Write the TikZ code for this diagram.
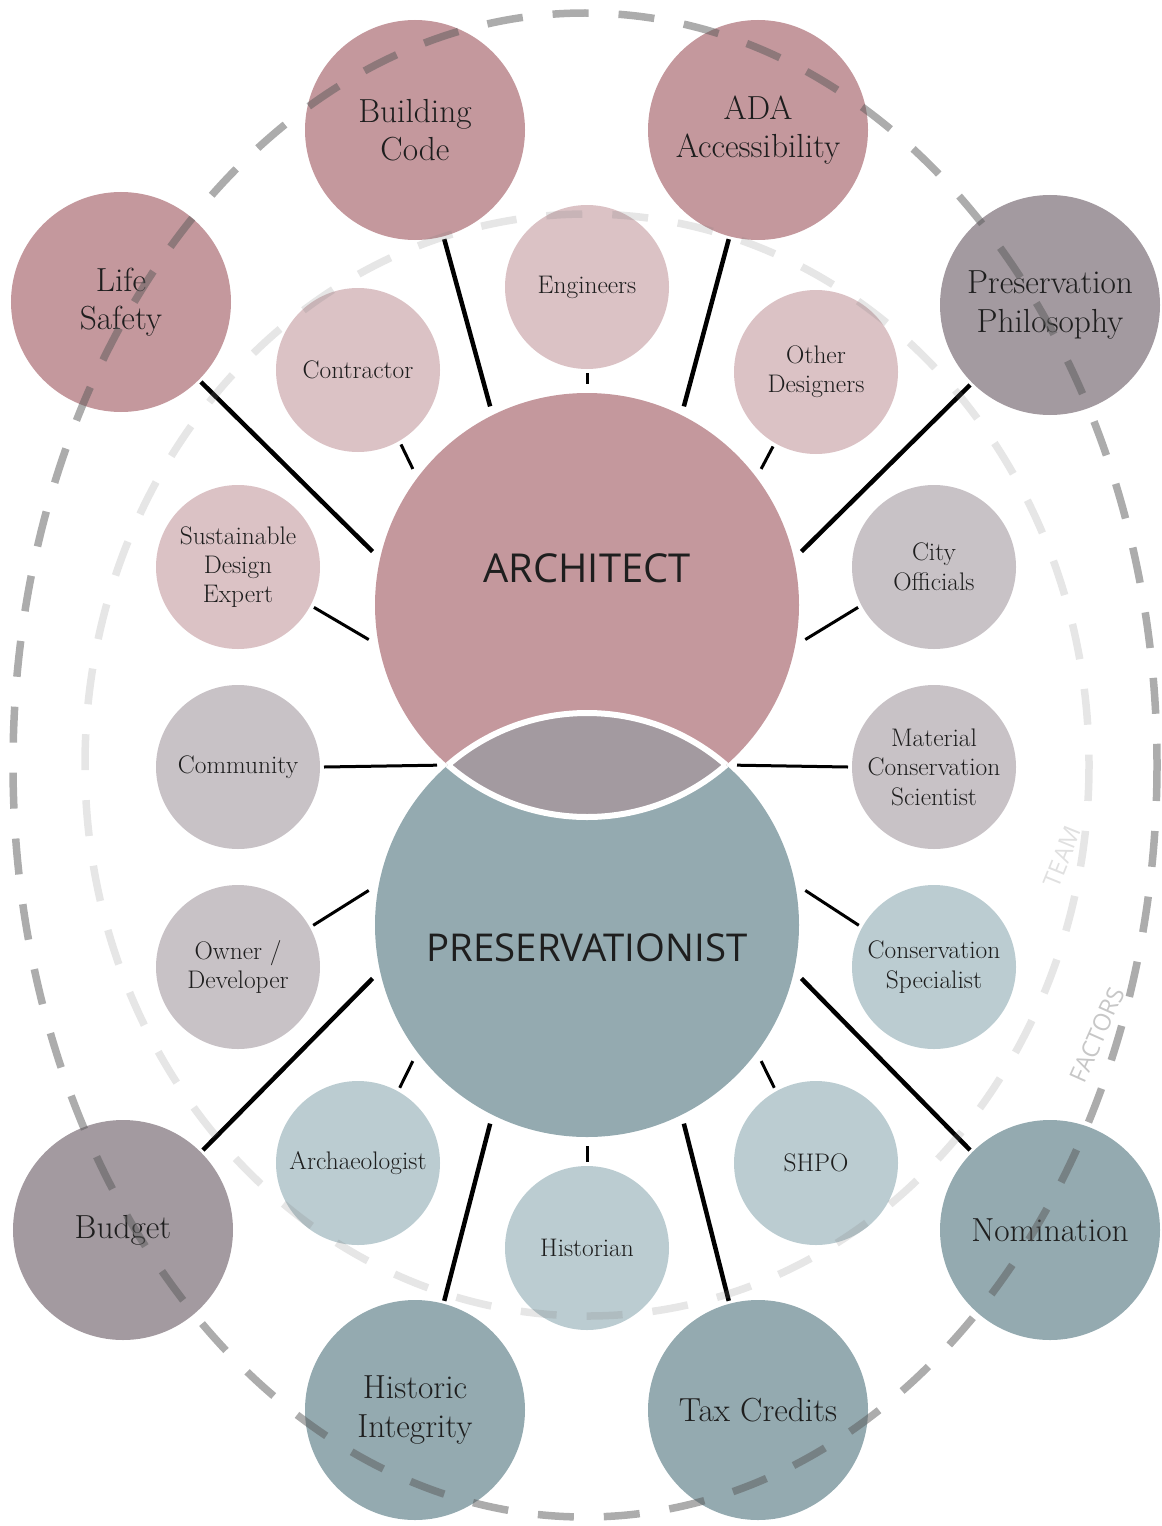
\documentclass[tikz,border=0pt]{standalone}
\usepackage{fontspec}
\newfontfamily\kernschrift{Open Sans}

\definecolor{archrot}{HTML}{C4989D}
\definecolor{teamrot}{HTML}{DBC2C5}
\definecolor{mauve}{HTML}{A39AA0}
\definecolor{hellmauve}{HTML}{C8C2C6}
\definecolor{petrol}{HTML}{94AAB0}
\definecolor{hellpetrol}{HTML}{BBCCD1}
\definecolor{schrift}{HTML}{1E1E1E}

\tikzset{
  kern/.style={circle, inner sep=0pt, outer sep=9bp, minimum size=424bp},
  kerntext/.style={text=schrift, inner sep=0pt, font=\kernschrift\fontsize{40}{46}\selectfont},
  faktor/.style={circle, inner sep=0pt, outer sep=3bp, minimum size=220bp, align=center,
    text=schrift, font=\fontsize{33.5}{38.5}\selectfont},
  team/.style={circle, inner sep=0pt, outer sep=4bp, minimum size=164bp, align=center,
    text=schrift, font=\fontsize{25.5}{29.5}\selectfont},
  faktorlink/.style={line width=4.5bp, black},
  teamlink/.style={line width=3bp, black},
  ring/.style={line width=7.5bp, dash pattern=on 36bp off 30bp},
  ringtext/.style={inner sep=0pt, font=\kernschrift\fontsize{24}{28}\selectfont},
}

\begin{document}
\begin{tikzpicture}[x=1bp, y=-1bp]
\useasboundingbox (0,0) rectangle (1161,1526);

% Kernkreise
\node[kern, fill=archrot] (arch) at (587,605) {};
\node[kern, fill=petrol] (pres) at (587,925) {};
% Schnittmenge
\begin{scope}
  \clip (587,605) circle[radius=212];
  \fill[mauve] (587,925) circle[radius=212];
  \draw[white, line width=6bp] (587,925) circle[radius=212];
\end{scope}
\begin{scope}
  \clip (587,925) circle[radius=212];
  \draw[white, line width=6bp] (587,605) circle[radius=212];
\end{scope}
\coordinate (lensW) at (448,765);
\coordinate (lensE) at (726,765);
\node[kerntext] (archlabel) at (587,568) {ARCHITECT};
\node[kerntext, font=\kernschrift\fontsize{38.5}{46}\selectfont] (preslabel) at (587,948) {PRESERVATIONIST};

% Team
\node[team, fill=teamrot] (engineers) at (587,287) {Engineers};
\node[team, fill=teamrot] (contractor) at (358,370) {Contractor};
\node[team, fill=teamrot] (designers) at (816,372) {Other\\Designers};
\node[team, fill=teamrot] (sustainable) at (238,567) {Sustainable\\Design\\Expert};
\node[team, fill=hellmauve] (city) at (934,567) {City\\Officials};
\node[team, fill=hellmauve] (community) at (238,767) {Community};
\node[team, fill=hellmauve] (material) at (934,767) {Material\\Conservation\\Scientist};
\node[team, fill=hellmauve] (owner) at (238,967) {Owner /\\Developer};
\node[team, fill=hellpetrol] (conservation) at (934,967) {Conservation\\Specialist};
\node[team, fill=hellpetrol] (archaeologist) at (358,1163) {Archaeologist};
\node[team, fill=hellpetrol] (shpo) at (816,1163) {SHPO};
\node[team, fill=hellpetrol] (historian) at (587,1248) {Historian};

% Faktoren
\node[faktor, fill=archrot] (code) at (415,130) {Building\\Code};
\node[faktor, fill=archrot] (ada) at (758,130) {ADA\\Accessibility};
\node[faktor, fill=archrot] (life) at (121,302) {Life\\Safety};
\node[faktor, fill=mauve] (philo) at (1050,305) {Preservation\\Philosophy};
\node[faktor, fill=mauve] (budget) at (123,1230) {Budget};
\node[faktor, fill=petrol] (nomination) at (1050,1230) {Nomination};
\node[faktor, fill=petrol] (integrity) at (415,1410) {Historic\\Integrity};
\node[faktor, fill=petrol] (taxcredits) at (758,1410) {Tax Credits};

% Verbindungen Faktoren
\draw[faktorlink] (life.-45) -- (arch.166);
\draw[faktorlink] (code.-75) -- (arch.116);
\draw[faktorlink] (ada.-105) -- (arch.64);
\draw[faktorlink] (philo.-135) -- (arch.14);
\draw[faktorlink] (budget.45) -- (pres.194);
\draw[faktorlink] (nomination.135) -- (pres.-14);
\draw[faktorlink] (integrity.75) -- (pres.-116);
\draw[faktorlink] (taxcredits.105) -- (pres.-64);

% Verbindungen Team
\draw[teamlink] (engineers.-90) -- (arch.90);
\draw[teamlink] (contractor.-60) -- (arch.142);
\draw[teamlink] (designers.-120) -- (arch.38);
\draw[teamlink] (sustainable.-28) -- (arch.189);
\draw[teamlink] (city.-152) -- (arch.-9);
\draw[teamlink, shorten >=11bp] (community.0) -- (lensW);
\draw[teamlink, shorten >=11bp] (material.180) -- (lensE);
\draw[teamlink] (owner.29) -- (pres.171);
\draw[teamlink] (conservation.151) -- (pres.9);
\draw[teamlink] (archaeologist.61) -- (pres.218);
\draw[teamlink] (shpo.119) -- (pres.-38);
\draw[teamlink] (historian.90) -- (pres.-90);

% Ringe
\draw[ring, draw=black!50, draw opacity=0.2] (587,765) ellipse[x radius=502, y radius=551];
\draw[ring, draw=black!65, draw opacity=0.5] (585,765) ellipse[x radius=572, y radius=752];
\node[ringtext, text=black!12, rotate=68] (teamlabel) at (1062,857) {TEAM};
\node[ringtext, text=black!22, rotate=66] (factorlabel) at (1097,1035) {FACTORS};
\end{tikzpicture}
\end{document}
